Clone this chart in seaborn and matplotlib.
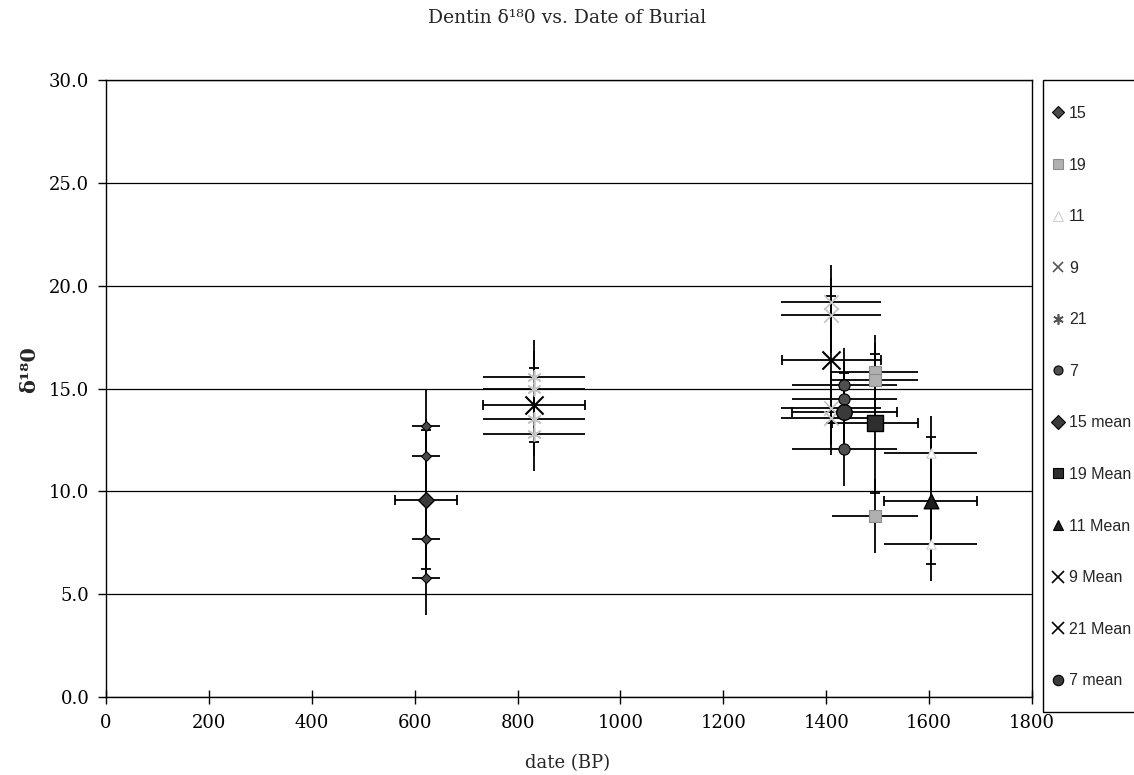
import numpy as np
import pandas as pd
import matplotlib
matplotlib.use("Agg")
import matplotlib.pyplot as plt
from matplotlib.lines import Line2D
from matplotlib.patches import Rectangle
import seaborn as sns

# ---------------- data ----------------
group_names = ["15", "19", "11", "9", "21", "7"]
group_dates = [622, 1495, 1603, 1410, 832, 1435]          # date (BP)

d18o_15 = [13.2, 11.7, 7.7, 5.8]
d18o_19 = [15.8, 15.4, 8.8]
d18o_11 = [11.85, 7.45]
d18o_9 = [19.2, 18.55, 14.05, 13.55]
d18o_21 = [15.55, 15.0, 13.5, 12.8]
d18o_7 = [15.15, 14.5, 12.05]

point_date_err = [27, 84, 90, 97, 100, 102]
point_d18o_err = [1.8, 1.8, 1.8, 1.8, 1.8, 1.8]

mean_labels = ["15 mean", "19 Mean", "11 Mean", "9 Mean", "21 Mean", "7 mean"]
mean_d18o = [9.6, 13.3, 9.55, 16.4, 14.2, 13.85]
mean_date_err = [60, 84, 90, 96, 100, 102]
mean_d18o_err = [3.4, 3.4, 3.1, 3.1, 1.8, 1.9]

y_ticks = [0, 5, 10, 15, 20, 25, 30]
x_ticks = [0, 200, 400, 600, 800, 1000, 1200, 1400, 1600, 1800]

# ---------------- tables ----------------
values = [d18o_15, d18o_19, d18o_11, d18o_9, d18o_21, d18o_7]
points = pd.DataFrame(
    [(g, d, v, xe, ye)
     for g, d, vals, xe, ye in zip(group_names, group_dates, values,
                                   point_date_err, point_d18o_err)
     for v in vals],
    columns=["group", "date", "d18o", "xerr", "yerr"])
means = pd.DataFrame({"group": group_names, "label": mean_labels,
                      "date": group_dates, "d18o": mean_d18o,
                      "xerr": mean_date_err, "yerr": mean_d18o_err})

# ---------------- styles ----------------
point_style = {
    "15": dict(marker="D", s=26, color="#4a4a4a", edgecolor="black", linewidth=0.8),
    "19": dict(marker="s", s=75, color="#b0b0b0", edgecolor="#8c8c8c", linewidth=0.8),
    "11": dict(marker="^", s=45, color="white", edgecolor="#cfcfcf", linewidth=0.8),
    "9": dict(marker="x", s=110, color="#c4c4c4", linewidth=1.2),
    "21": dict(marker=(6, 2, 0), s=90, color="#c4c4c4", linewidth=1.2),
    "7": dict(marker="o", s=65, color="#4f4f4f", edgecolor="black", linewidth=0.8),
}
mean_style = {
    "15": dict(marker="D", s=65, color="#3a3a3a", edgecolor="black", linewidth=1.0),
    "19": dict(marker="s", s=120, color="#2e2e2e", edgecolor="black", linewidth=1.0),
    "11": dict(marker="^", s=110, color="#1e1e1e", edgecolor="black", linewidth=1.0),
    "9": dict(marker="x", s=170, color="black", linewidth=1.5),
    "21": dict(marker="x", s=170, color="black", linewidth=1.5),
    "7": dict(marker="o", s=125, color="#3a3a3a", edgecolor="black", linewidth=1.0),
}

# ---------------- figure ----------------
sns.set_style("white")
plt.rcParams["font.family"] = ["DejaVu Serif"]
W, H = 1134, 775
fig = plt.figure(figsize=(W / 100, H / 100), dpi=100)
ax = fig.add_axes([106 / W, 1 - 697 / H, (1032 - 106) / W, (697 - 80) / H])

for g in group_names:
    sub = points[points.group == g]
    ax.errorbar(sub.date, sub.d18o, xerr=sub.xerr, yerr=sub.yerr, fmt="none",
                ecolor="black", elinewidth=1.3, capsize=0, zorder=2)
    m = means[means.group == g]
    ax.errorbar(m.date, m.d18o, xerr=m.xerr, yerr=m.yerr, fmt="none",
                ecolor="black", elinewidth=1.3, capsize=3.8, capthick=1.3,
                zorder=2)

for g in group_names:
    sub = points[points.group == g]
    sns.scatterplot(data=sub, x="date", y="d18o", ax=ax, legend=False,
                    zorder=4, **point_style[g])
for g in group_names:
    m = means[means.group == g]
    sns.scatterplot(data=m, x="date", y="d18o", ax=ax, legend=False,
                    zorder=5, **mean_style[g])

ax.set_xlim(0, 1800)
ax.set_ylim(0, 30)
ax.set_xticks(x_ticks)
ax.set_xticklabels([str(t) for t in x_ticks])
ax.set_yticks(y_ticks)
ax.set_yticklabels([f"{t:.1f}" for t in y_ticks])
ax.tick_params(axis="y", direction="out", length=6, width=1, pad=6,
               labelsize=13, colors="black", left=True)
ax.tick_params(axis="x", direction="inout", length=10, width=1, pad=7,
               labelsize=13, colors="black", bottom=True)
ax.yaxis.grid(True, color="black", linewidth=0.9)
ax.xaxis.grid(False)
ax.set_axisbelow(True)
for sp in ax.spines.values():
    sp.set_visible(True)
    sp.set_color("black")
    sp.set_linewidth(1.0)

ax.set_xlabel("date (BP)", fontsize=13)
ax.xaxis.set_label_coords(0.498, -0.093)
ax.set_ylabel("δ¹⁸0", fontsize=15, fontweight="bold")
ax.yaxis.set_label_coords(-0.072, 0.53)
fig.text(0.5, 1 - 18 / H, "Dentin δ¹⁸0 vs. Date of Burial", ha="center",
         va="center", fontsize=13.5)

# ---------------- legend ----------------
def handle(st, size):
    mk = st["marker"]
    if mk in ("x", (6, 2, 0)):
        return Line2D([], [], linestyle="none", marker=mk, markersize=size + 1,
                      color=("#555555" if st["color"] != "black" else "black"),
                      markeredgewidth=1.2)
    return Line2D([], [], linestyle="none", marker=mk, markersize=size,
                  markerfacecolor=st["color"],
                  markeredgecolor=st.get("edgecolor", st["color"]),
                  markeredgewidth=0.8)

handles = [handle(point_style[g], 6.5) for g in group_names] + \
          [handle(mean_style[g], 7.5) for g in group_names]
labels = group_names + mean_labels
leg = fig.legend(handles, labels, loc="upper left",
                 bbox_to_anchor=(1050 / W, 1 - 106 / H), frameon=False,
                 prop={"family": "Liberation Sans", "size": 11.5},
                 handlelength=1.0, handletextpad=0.2, borderpad=0,
                 borderaxespad=0, labelspacing=2.29)
fig.add_artist(Rectangle((1043 / W, 1 - 712 / H), 0.2, (712 - 80) / H,
                         transform=fig.transFigure, fill=False,
                         edgecolor="black", linewidth=1.0))

fig.savefig("out.png", dpi=100)
